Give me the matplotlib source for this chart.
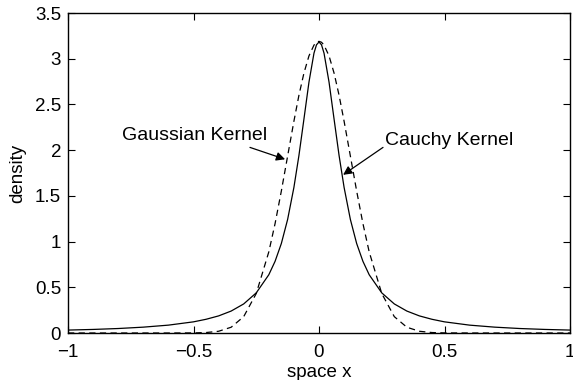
import matplotlib
matplotlib.use("Agg")
import matplotlib.pyplot as plt

# valores (simetricos em torno de 0)
x_meio = [0, 0.01, 0.02, 0.04, 0.06, 0.08, 0.1, 0.125, 0.15, 0.175, 0.2, 0.25,
          0.3, 0.35, 0.4, 0.45, 0.5, 0.6, 0.7, 0.8, 0.9, 1.0]
cauchy_meio = [3.183, 3.152, 3.061, 2.744, 2.340, 1.941, 1.592, 1.242, 0.979,
               0.784, 0.637, 0.439, 0.318, 0.240, 0.187, 0.150, 0.122, 0.086,
               0.064, 0.049, 0.039, 0.032]
gauss_meio = [3.19, 3.18, 3.149, 3.031, 2.843, 2.600, 2.316, 1.935, 1.553,
              1.197, 0.887, 0.432, 0.179, 0.063, 0.019, 0.005, 0.001, 0.0,
              0.0, 0.0, 0.0, 0.0]

x = [-v for v in x_meio[:0:-1]] + x_meio
cauchy = cauchy_meio[:0:-1] + cauchy_meio
gauss = gauss_meio[:0:-1] + gauss_meio

plt.rcParams['font.family'] = ['Liberation Sans', 'DejaVu Sans']
plt.rcParams['axes.unicode_minus'] = True

fig = plt.figure(figsize=(5.73, 3.80), dpi=100)
ax = fig.add_axes([68/573, 1 - 333/380, (570-68)/573, (333-13)/380])

ax.plot(x, cauchy, '-k', lw=0.9)
ax.plot(x, gauss, '--k', lw=0.9, dashes=(5, 3.5))

ax.set_xlim(-1, 1)
ax.set_ylim(0, 3.5)
ax.set_xticks([-1, -0.5, 0, 0.5, 1])
ax.set_xticklabels(['\u22121', '\u22120.5', '0', '0.5', '1'])
ax.set_yticks([0, 0.5, 1, 1.5, 2, 2.5, 3, 3.5])
ax.set_yticklabels(['0', '0.5', '1', '1.5', '2', '2.5', '3', '3.5'])
ax.tick_params(direction='in', length=5, width=0.8, top=True, right=True,
               labelsize=13.5)
ax.tick_params(axis='x', pad=8)
ax.tick_params(axis='y', pad=5)
for s in ax.spines.values():
    s.set_linewidth(1.0)

ax.set_xlabel('space x', fontsize=13.5, labelpad=2)
ax.set_ylabel('density', fontsize=13.5, labelpad=6)

seta = dict(arrowstyle='-|>', color='k', lw=0.9, mutation_scale=13,
            shrinkA=0, shrinkB=0)
ax.annotate('', xy=(-0.135, 1.90), xytext=(-0.275, 2.03), arrowprops=seta)
ax.annotate('', xy=(0.096, 1.73), xytext=(0.255, 2.03), arrowprops=seta)
ax.text(-0.785, 2.11, 'Gaussian Kernel', fontsize=14, va='baseline')
ax.text(0.263, 2.06, 'Cauchy Kernel', fontsize=14, va='baseline')

plt.savefig('out.png', dpi=100)
